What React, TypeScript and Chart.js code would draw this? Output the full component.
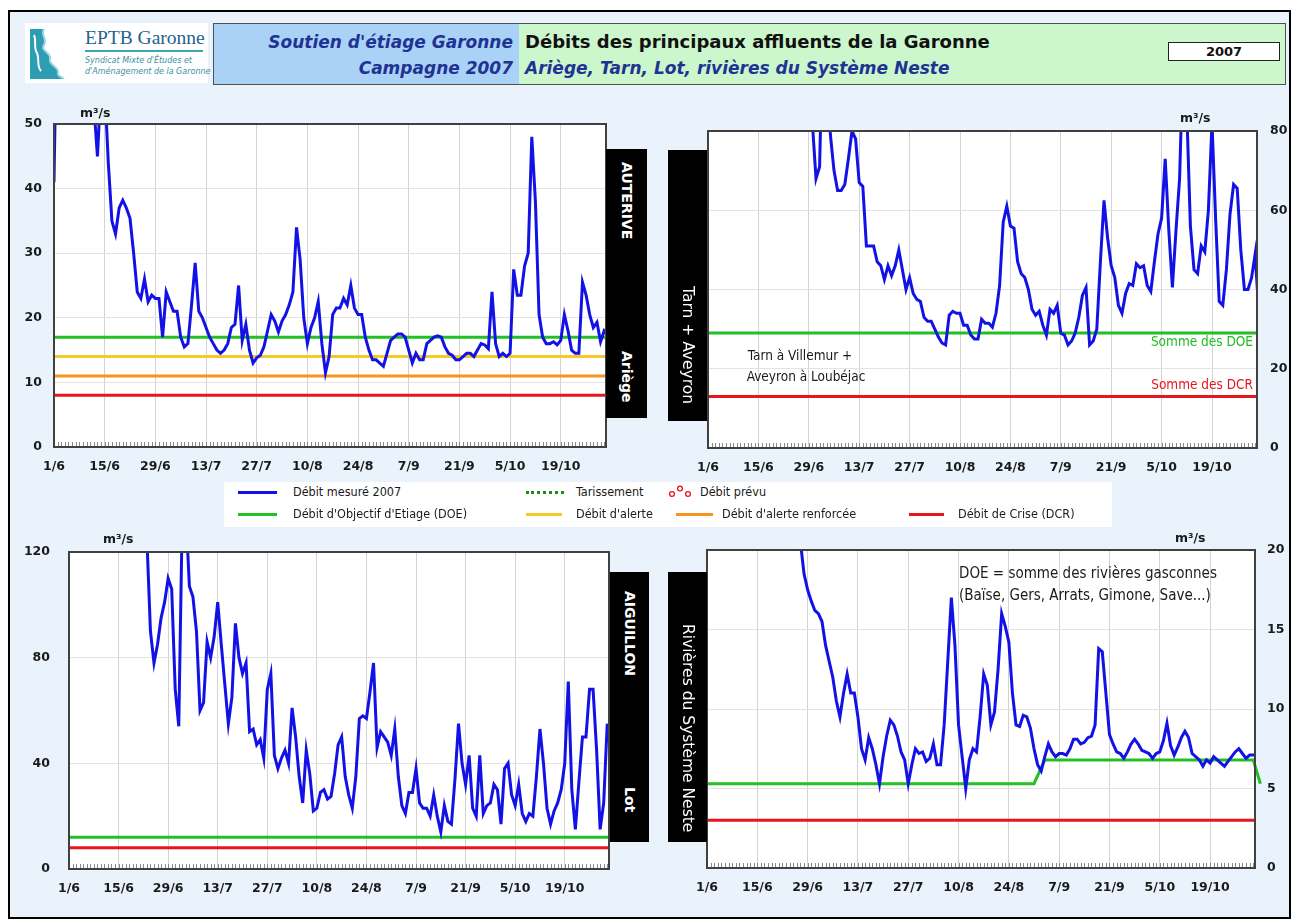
import React, { useEffect, useRef } from 'react';
import { Chart, registerables } from 'chart.js';

Chart.register(...registerables);

const FONT = '"DejaVu Sans", sans-serif';
const CFONT = '"DejaVu Sans Condensed", "DejaVu Sans", sans-serif';
const X_MAX = 152.5;

// x axis: days since 1 June 2007
const tickDays = [0, 14, 28, 42, 56, 70, 84, 98, 112, 126, 140];
const tickLabels = ['1/6', '15/6', '29/6', '13/7', '27/7', '10/8', '24/8', '7/9', '21/9', '5/10', '19/10'];

// Débit mesuré 2007 (m3/s), one value per day from 1/6
const auteriveFlow = [
  41, 75, 80, 85, 78, 72, 68, 64, 60, 57,
  55, 53, 45, 56, 56, 44, 35, 33, 37, 38.2,
  37, 35.4, 30, 24, 23, 26, 22.5, 23.5, 23, 23,
  17, 24, 22.5, 21, 21, 17, 15.5, 16, 22, 28.5,
  21, 20, 18.5, 17, 16, 15, 14.5, 15, 16, 18.5,
  19, 25, 16.5, 19, 15, 13, 13.8, 14.2, 15.5, 18,
  20.5, 19.5, 17.8, 19.5, 20.5, 22, 24, 34, 29, 20,
  16, 18.5, 20, 22.5, 16, 11.5, 14, 20.5, 21.5, 21.5,
  23, 22, 25, 21.5, 20.5, 20.5, 17, 15, 13.5, 13.5,
  13, 12.5, 14.5, 16.5, 17, 17.5, 17.5, 17, 15, 13,
  14.5, 13.5, 13.5, 16, 16.5, 17, 17.2, 17, 15.5, 14.5,
  14.2, 13.5, 13.5, 14, 14.5, 14.5, 14, 15, 16, 15.8,
  15.2, 24, 16, 14, 14.5, 14, 14.5, 27.5, 23.5, 23.5,
  28, 30, 48, 38, 20.5, 17, 16, 16, 16.3, 15.8,
  16.5, 20.5, 18, 15, 14.5, 14.5, 25.5, 23.5, 20.5, 18.5,
  19.3, 16.3, 18, 17.5,
];

const tarnAveyronFlow = [
  180, 170, 160, 150, 145, 140, 135, 130, 125, 120,
  118, 115, 112, 110, 108, 106, 104, 102, 100, 98,
  97, 96, 95, 94, 93, 92, 91, 90, 92, 82,
  68, 71, 110, 100, 79, 70, 65, 65, 66.5, 73,
  80, 78, 67, 66, 51, 51, 51, 47, 46, 42.5,
  46, 43.5, 46, 50, 45, 40, 43, 39, 37.5, 37,
  33, 32, 32, 30, 28, 26.5, 26, 33.5, 34.5, 34,
  34, 31, 31, 28.5, 27.5, 27.5, 32.5, 31.5, 31.5, 30.5,
  34, 41, 57, 61, 56, 55.5, 47, 44, 43, 40,
  35, 33.5, 34.5, 31, 28.5, 35, 34, 36, 29, 28.5,
  26, 27, 29, 33, 38.5, 40.5, 26, 27, 30, 47,
  62.5, 53, 46, 43, 36, 34, 39, 41.5, 41, 46.5,
  45.5, 46, 41, 39.5, 47, 54, 58, 73, 55, 40.5,
  55, 68, 100, 85, 56, 45, 44, 51, 49.5, 60,
  82, 58, 37, 36, 45, 59, 66.5, 65.5, 50, 40,
  40, 43, 49, 34,
];

const lotFlow = [
  200, 190, 185, 180, 175, 170, 165, 160, 158, 155,
  152, 150, 148, 145, 142, 140, 138, 136, 134, 132,
  130, 128, 125, 90, 78, 85, 95, 101, 110, 106,
  68, 54, 135, 135, 107, 103, 90, 60, 63, 86,
  80, 88, 101, 85, 70, 55, 65, 93, 80, 74,
  78, 52, 53, 47, 49, 42, 68, 74, 43, 38,
  42, 45, 40, 61, 50, 35, 25, 45, 36, 22,
  23, 29, 30, 26.5, 27.5, 36, 47, 50, 35, 28,
  23, 35, 57, 58, 57, 67, 78, 46, 52, 50,
  48, 43, 53, 35, 24, 21, 29, 29, 38, 25,
  23, 23, 20, 28, 20, 14, 24, 18, 17, 34,
  55, 40, 32, 43, 23, 20, 43, 21, 24, 25,
  32, 30, 17, 38, 40, 28, 24, 32, 21, 18,
  21, 20, 35, 53, 40, 23, 17, 22, 25, 30,
  40, 71, 30, 15, 33, 50, 50, 68, 68, 45,
  15, 25, 55, 44,
];

const nesteFlow = [
  40, 38, 36, 35, 34, 33, 32, 31, 30, 29.5,
  29, 28.5, 28, 27.5, 27, 26.5, 26, 25.5, 25, 24.5,
  24, 23.5, 23, 22.5, 22, 21.5, 20.5, 18.5, 17.5, 16.8,
  16.2, 16, 15.5, 14, 13, 12, 10.5, 9.5, 11, 12.2,
  11, 11, 9.5, 7.5, 6.8, 8.2, 7.5, 6.5, 5.3, 7,
  8.3, 9.3, 9, 8.3, 7.3, 6.8, 5.3, 6.5, 7.5, 7.2,
  7.3, 6.7, 6.9, 7.8, 6.5, 6.5, 9, 13, 17, 14,
  9, 7, 5, 6.8, 7.5, 7.3, 9.5, 12.2, 11.5, 9,
  9.8, 12.5, 16, 15.2, 14.2, 11, 9, 8.9, 9.6, 9.5,
  8.8, 7.5, 6.5, 6.1, 7, 7.8, 7.3, 7, 7.2, 7.2,
  7.1, 7.5, 8.1, 8.1, 7.8, 7.9, 8.2, 8.3, 9, 13.8,
  13.6, 11, 8.4, 7.8, 7.3, 7.2, 6.9, 7.3, 7.8, 8.1,
  7.8, 7.4, 7.3, 7.2, 6.9, 7.2, 7.3, 8, 9.1, 7.7,
  7.1, 7.6, 8.2, 8.6, 8.2, 7.2, 7, 6.8, 6.4, 6.8,
  6.6, 7, 6.8, 6.6, 6.4, 6.7, 7, 7.3, 7.5, 7.2,
  6.9, 7.1, 7.1, 7.1,
];

// Reference levels (m3/s)
const auteriveLevels = [17, 14, 11, 8]; // DOE, alerte, alerte renforcée, DCR
const tarnAveyronLevels = [29, 13]; // somme des DOE, somme des DCR
const lotLevels = [12, 8]; // DOE, DCR
const nesteDoeDays = [0, 91, 94, 152, 154];
const nesteDoeValues = [5.3, 5.3, 6.8, 6.8, 5.3];
const nesteDcr = [3];

const BLUE = '#1212e6';
const GREEN = '#22c022';
const YELLOW = '#f5c92a';
const ORANGE = '#f5941f';
const RED = '#e8161c';
const BG = '#eaf3fc';

const plotBackground = {
  id: 'plotBackground',
  beforeDraw(chart: any) {
    const { ctx, chartArea: a } = chart;
    ctx.save();
    ctx.fillStyle = '#ffffff';
    ctx.fillRect(a.left, a.top, a.right - a.left, a.bottom - a.top);
    ctx.restore();
  },
};

const minorTicks = {
  id: 'minorTicks',
  afterDatasetsDraw(chart: any) {
    const { ctx, chartArea: a, scales } = chart;
    const x = scales.x;
    ctx.save();
    ctx.strokeStyle = '#8a8a8a';
    ctx.lineWidth = 1;
    for (let d = 0; d <= X_MAX; d++) {
      const px = Math.round(x.getPixelForValue(d)) + 0.5;
      ctx.beginPath();
      ctx.moveTo(px, a.bottom);
      ctx.lineTo(px, a.bottom - 5);
      ctx.stroke();
    }
    ctx.restore();
  },
};

const plotFrame = {
  id: 'plotFrame',
  afterDatasetsDraw(chart: any) {
    const { ctx, chartArea: a } = chart;
    ctx.save();
    ctx.strokeStyle = '#404040';
    ctx.lineWidth = 2;
    ctx.strokeRect(a.left, a.top, a.right - a.left, a.bottom - a.top);
    ctx.restore();
  },
};

const flowLine = (vals: number[]) => ({
  data: vals.map((v, i) => ({ x: i, y: v })),
  borderColor: BLUE,
  borderWidth: 3,
  order: 0,
});

const levelLine = (v: number, color: string) => ({
  data: [{ x: 0, y: v }, { x: X_MAX, y: v }],
  borderColor: color,
  borderWidth: 3,
  order: 1,
});

type ChartProps = {
  x: number; y: number; w: number; h: number; padTop: number; padLeft: number;
  yMax: number; yStep: number; yRight?: boolean; yWidth: number; yPad: number;
  datasets: any[];
};

function FlowChart(p: ChartProps) {
  const ref = useRef<HTMLCanvasElement | null>(null);
  useEffect(() => {
    if (!ref.current) return;
    const tickFont = { family: FONT, size: 12.5, weight: 'bold' as const };
    const chart = new Chart(ref.current, {
      type: 'line',
      data: { datasets: p.datasets },
      options: {
        animation: false,
        responsive: false,
        maintainAspectRatio: false,
        layout: { padding: { top: p.padTop, left: p.padLeft, right: p.yRight ? 0 : 2, bottom: 0 } },
        plugins: { legend: { display: false }, tooltip: { enabled: false } },
        elements: { point: { radius: 0 }, line: { tension: 0 } },
        scales: {
          x: {
            type: 'linear',
            min: 0,
            max: X_MAX,
            afterBuildTicks: (s: any) => { s.ticks = tickDays.map((v) => ({ value: v })); },
            afterFit: (s: any) => { s.height = 34; s.paddingLeft = 0; s.paddingRight = 0; },
            ticks: {
              autoSkip: false,
              maxRotation: 0,
              padding: 12,
              color: '#1a1a1a',
              font: tickFont,
              callback: (_v: any, i: number) => tickLabels[i],
            },
            grid: { color: '#d2d2d2', lineWidth: 1, drawTicks: false },
            border: { color: '#404040', width: 2 },
          },
          y: {
            position: p.yRight ? 'right' : 'left',
            min: 0,
            max: p.yMax,
            afterFit: (s: any) => { s.width = p.yWidth; s.paddingTop = 0; s.paddingBottom = 0; },
            ticks: { stepSize: p.yStep, padding: p.yPad, color: '#1a1a1a', font: tickFont },
            grid: { color: '#e3e3e3', lineWidth: 1, drawTicks: false },
            border: { color: '#404040', width: 2 },
          },
        },
      } as any,
      plugins: [plotBackground, minorTicks, plotFrame],
    });
    return () => chart.destroy();
  }, []);
  return (
    <canvas
      ref={ref}
      width={p.w}
      height={p.h}
      style={{ position: 'absolute', left: p.x, top: p.y, width: p.w, height: p.h }}
    />
  );
}

function T(props: { x: number; y: number; align?: 'left' | 'center' | 'right'; style?: React.CSSProperties; children: React.ReactNode }) {
  const { x, y, align = 'left', style, children } = props;
  const tx = align === 'center' ? 'translateX(-50%)' : align === 'right' ? 'translateX(-100%)' : 'none';
  return (
    <div style={{ position: 'absolute', left: x, top: y - 10, height: 20, lineHeight: '20px', whiteSpace: 'nowrap', transform: tx, ...style }}>
      {children}
    </div>
  );
}

function VBox(props: { x: number; y: number; w: number; h: number; items: { text: string; top: number; bold?: boolean; size: number }[] }) {
  return (
    <div style={{ position: 'absolute', left: props.x, top: props.y, width: props.w, height: props.h, background: '#000' }}>
      {props.items.map((it, i) => (
        <div
          key={i}
          style={{
            position: 'absolute', top: it.top, left: '50%', transform: 'translateX(-50%)',
            writingMode: 'vertical-rl', color: '#fff', fontFamily: FONT, fontSize: it.size,
            fontWeight: it.bold ? 'bold' : 'normal', lineHeight: '20px', whiteSpace: 'nowrap',
          }}
        >
          {it.text}
        </div>
      ))}
    </div>
  );
}

function LegendLine(props: { x1: number; x2: number; y: number; color: string; dotted?: boolean }) {
  return (
    <div style={{
      position: 'absolute', left: props.x1, top: props.y - 1.5, width: props.x2 - props.x1, height: 0,
      borderTop: `3px ${props.dotted ? 'dotted' : 'solid'} ${props.color}`,
    }} />
  );
}

export default function App() {
  const unit = { fontFamily: FONT, fontWeight: 'bold' as const, fontSize: 12.5, color: '#1a1a1a' };
  const note = { fontFamily: CFONT, fontSize: 13.5, color: '#1a1a1a' };
  const legendText = { fontFamily: CFONT, fontSize: 12.5, color: '#1a1a1a' };

  const ds1 = [
    flowLine(auteriveFlow),
    levelLine(auteriveLevels[0], GREEN),
    levelLine(auteriveLevels[1], YELLOW),
    levelLine(auteriveLevels[2], ORANGE),
    levelLine(auteriveLevels[3], RED),
  ];
  const ds2 = [flowLine(tarnAveyronFlow), levelLine(tarnAveyronLevels[0], GREEN), levelLine(tarnAveyronLevels[1], RED)];
  const ds3 = [flowLine(lotFlow), levelLine(lotLevels[0], GREEN), levelLine(lotLevels[1], RED)];
  const ds4 = [
    flowLine(nesteFlow),
    {
      data: nesteDoeDays.map((d, i) => ({ x: d, y: nesteDoeValues[i] })),
      borderColor: GREEN, borderWidth: 3, order: 1, clip: 7,
    },
    levelLine(nesteDcr[0], RED),
  ];

  return (
    <div style={{ position: 'fixed', left: 0, top: 0, width: 1294, height: 920, background: '#fff', overflow: 'hidden', fontFamily: FONT }}>
      <div style={{ position: 'absolute', left: 8, top: 10, width: 1283, height: 909, border: '2px solid #000', background: BG, boxSizing: 'border-box' }} />

      {/* Logo */}
      <div style={{ position: 'absolute', left: 25, top: 23, width: 183, height: 60, background: '#fff' }}>
        <svg style={{ position: 'absolute', left: 3, top: 4 }} width="52" height="52" viewBox="0 0 52 52">
          <path d="M2 2 H16 C12 8 20 12 16 18 C12 24 24 26 22 32 C20 38 32 40 30 46 C29 49 34 50 36 52 H2 Z" fill="#2c9db3" />
          <path d="M16 2 C12 8 20 12 16 18 C12 24 24 26 22 32 C20 38 32 40 30 46 C29 49 34 50 36 52" stroke="#9fd8e2" strokeWidth="2" fill="none" />
          <path d="M6 8 C9 14 5 20 9 26 C12 32 8 38 13 44" stroke="#ffffff" strokeWidth="2" fill="none" />
        </svg>
        <div style={{ position: 'absolute', left: 60, top: 4, fontFamily: '"Liberation Serif", serif', fontSize: 19.5, color: '#25628d', whiteSpace: 'nowrap' }}>EPTB Garonne</div>
        <div style={{ position: 'absolute', left: 60, top: 27, width: 118, height: 2, background: '#3aa6b5' }} />
        <div style={{ position: 'absolute', left: 60, top: 32, fontFamily: FONT, fontStyle: 'italic', fontSize: 8, lineHeight: '11px', color: '#3a8fa5', whiteSpace: 'nowrap' }}>
          Syndicat Mixte d'Études et<br />d'Aménagement de la Garonne
        </div>
      </div>

      {/* Title */}
      <div style={{ position: 'absolute', left: 213, top: 23, width: 1073, height: 62, border: '1.5px solid #505050', boxSizing: 'border-box', display: 'flex' }}>
        <div style={{ width: 305, background: '#aad2f7' }} />
        <div style={{ flex: 1, background: '#ccf6cc' }} />
      </div>
      <T x={513} y={42} align="right" style={{ fontStyle: 'italic', fontWeight: 'bold', fontSize: 17, color: '#1f3393' }}>Soutien d'étiage Garonne</T>
      <T x={513} y={68} align="right" style={{ fontStyle: 'italic', fontWeight: 'bold', fontSize: 17, color: '#1f3393' }}>Campagne 2007</T>
      <T x={525} y={42} style={{ fontWeight: 'bold', fontSize: 18, color: '#111' }}>Débits des principaux affluents de la Garonne</T>
      <T x={525} y={68} style={{ fontStyle: 'italic', fontWeight: 'bold', fontSize: 17, color: '#1f3393' }}>Ariège, Tarn, Lot, rivières du Système Neste</T>
      <div style={{ position: 'absolute', left: 1168, top: 42, width: 112, height: 19, background: '#fff', border: '1px solid #222', boxSizing: 'border-box', textAlign: 'center', fontWeight: 'bold', fontSize: 13, lineHeight: '17px', color: '#111' }}>2007</div>

      {/* Charts */}
      <FlowChart x={12} y={114} w={596} h={367} padTop={10} padLeft={0} yMax={50} yStep={10} yWidth={42} yPad={12} datasets={ds1} />
      <FlowChart x={688} y={121} w={602} h={361} padTop={10} padLeft={20} yMax={80} yStep={20} yRight yWidth={33} yPad={13} datasets={ds2} />
      <FlowChart x={14} y={542} w={597} h={361} padTop={10} padLeft={0} yMax={120} yStep={40} yWidth={55} yPad={19} datasets={ds3} />
      <FlowChart x={687} y={540} w={603} h={362} padTop={10} padLeft={20} yMax={20} yStep={5} yRight yWidth={35} yPad={12} datasets={ds4} />

      {/* units */}
      <T x={80} y={113} style={unit}>m³/s</T>
      <T x={1180} y={118} style={unit}>m³/s</T>
      <T x={103} y={539} style={unit}>m³/s</T>
      <T x={1175} y={538} style={unit}>m³/s</T>

      {/* station boxes */}
      <VBox x={606} y={149} w={41} h={269} items={[{ text: 'AUTERIVE', top: 13, bold: true, size: 14 }, { text: 'Ariège', top: 202, bold: true, size: 14 }]} />
      <VBox x={668} y={150} w={39} h={271} items={[{ text: 'Tarn + Aveyron', top: 136, size: 15.5 }]} />
      <VBox x={610} y={572} w={39} h={270} items={[{ text: 'AIGUILLON', top: 19, bold: true, size: 14 }, { text: 'Lot', top: 215, bold: true, size: 14 }]} />
      <VBox x={668} y={572} w={39} h={270} items={[{ text: 'Rivières du Système Neste', top: 52, size: 15.5 }]} />

      {/* chart annotations */}
      <T x={800} y={355} align="center" style={note}>Tarn à Villemur +</T>
      <T x={806} y={376} align="center" style={note}>Aveyron à Loubéjac</T>
      <T x={1253} y={341} align="right" style={{ ...note, color: '#22bb22' }}>Somme des DOE</T>
      <T x={1253} y={384} align="right" style={{ ...note, color: '#e8161c' }}>Somme des DCR</T>
      <T x={959} y={573} style={{ ...note, fontSize: 15 }}>DOE = somme des rivières gasconnes</T>
      <T x={959} y={595} style={{ ...note, fontSize: 15 }}>(Baïse, Gers, Arrats, Gimone, Save...)</T>

      {/* Legend */}
      <div style={{ position: 'absolute', left: 224, top: 482, width: 888, height: 45, background: '#fff' }} />
      <LegendLine x1={238} x2={277} y={492} color={BLUE} />
      <T x={293} y={492} style={legendText}>Débit mesuré 2007</T>
      <LegendLine x1={526} x2={564} y={492} color="#149014" dotted />
      <T x={576} y={492} style={legendText}>Tarissement</T>
      <svg style={{ position: 'absolute', left: 668, top: 484 }} width="24" height="14" viewBox="0 0 24 14">
        <circle cx="4" cy="10" r="2.4" stroke={RED} strokeWidth="1.3" fill="none" />
        <circle cx="12" cy="4.5" r="2.4" stroke={RED} strokeWidth="1.3" fill="none" />
        <circle cx="20" cy="10" r="2.4" stroke={RED} strokeWidth="1.3" fill="none" />
      </svg>
      <T x={700} y={492} style={legendText}>Débit prévu</T>
      <LegendLine x1={238} x2={277} y={514} color={GREEN} />
      <T x={293} y={514} style={legendText}>Débit d'Objectif d'Etiage (DOE)</T>
      <LegendLine x1={526} x2={562} y={514} color={YELLOW} />
      <T x={576} y={514} style={legendText}>Débit d'alerte</T>
      <LegendLine x1={676} x2={713} y={514} color={ORANGE} />
      <T x={722} y={514} style={legendText}>Débit d'alerte renforcée</T>
      <LegendLine x1={909} x2={944} y={514} color={RED} />
      <T x={958} y={514} style={legendText}>Débit de Crise (DCR)</T>
    </div>
  );
}
